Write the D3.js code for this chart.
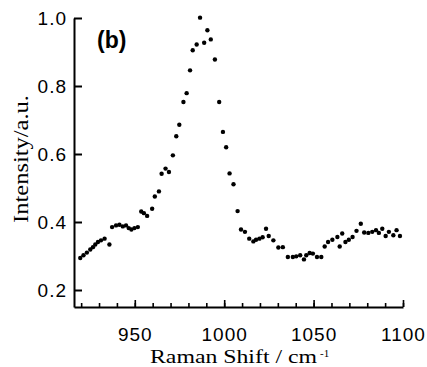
<!DOCTYPE html>
<html>
<head>
<meta charset="utf-8">
<script src="https://cdn.jsdelivr.net/npm/d3@7"></script>
<style>
  html, body { margin: 0; padding: 0; background: #fff; }
  svg { display: block; }
  .axis path, .axis line { stroke: #000; }
  .axis text { font-family: 'Liberation Sans', Arial, sans-serif; font-size: 19px; fill: #000; letter-spacing: 1px; }
</style>
</head>
<body>
<figure id="spec" style="margin:0"></figure>
<script>
// Raman shift (cm-1) and normalised intensity
const shift = [
  919.5, 921.3, 923.2, 925.1, 926.6, 927.9, 929.4, 931.1, 933.1, 935.8,
  937.3, 939.5, 941.4, 943.3, 945.1, 946.6, 948.1, 949.8, 951.7, 953.6,
  955.1, 956.9, 959.7, 961.2, 963.5, 965.0, 967.2, 969.1, 971.3, 973.2,
  974.9, 977.2, 979.0, 980.9, 982.4, 984.6, 986.5, 988.8, 990.6, 992.5,
  994.8, 997.2, 999.3, 1001.1, 1003.0, 1005.2, 1007.5, 1009.4, 1011.6, 1014.0,
  1016.3, 1017.8, 1019.7, 1021.5, 1023.4, 1024.9, 1027.5, 1030.3, 1032.8, 1035.6,
  1038.4, 1040.3, 1042.5, 1044.6, 1045.9, 1047.8, 1049.6, 1051.9, 1054.3, 1056.2,
  1058.1, 1060.5, 1063.3, 1064.6, 1066.0, 1067.8, 1069.7, 1071.8, 1074.0, 1076.4,
  1078.3, 1080.6, 1082.8, 1084.9, 1086.5, 1088.4, 1090.3, 1092.1, 1094.6, 1096.4,
  1098.3
];
const intensity = [
  0.294, 0.302, 0.310, 0.319, 0.326, 0.334, 0.341, 0.346, 0.351, 0.334,
  0.385, 0.390, 0.392, 0.387, 0.390, 0.382, 0.378, 0.382, 0.385, 0.431,
  0.426, 0.418, 0.439, 0.475, 0.490, 0.542, 0.557, 0.547, 0.596, 0.652,
  0.686, 0.753, 0.779, 0.846, 0.905, 0.922, 1.001, 0.927, 0.964, 0.937,
  0.878, 0.753, 0.665, 0.620, 0.543, 0.511, 0.432, 0.378, 0.371, 0.351,
  0.343, 0.348, 0.351, 0.355, 0.380, 0.359, 0.346, 0.325, 0.326, 0.297,
  0.297, 0.299, 0.302, 0.290, 0.302, 0.309, 0.307, 0.297, 0.297, 0.328,
  0.341, 0.348, 0.356, 0.328, 0.366, 0.341, 0.348, 0.356, 0.374, 0.395,
  0.369, 0.368, 0.371, 0.376, 0.368, 0.380, 0.359, 0.371, 0.361, 0.376,
  0.359
];
const yTicks = [0.2, 0.4, 0.6, 0.8, 1.0];
const xMajor = [950, 1000, 1050, 1100];
const xMinor = d3.range(920, 1101, 10);

const W = 427, H = 367;
const svg = d3.select('figure#spec').append('svg')
  .attr('width', W).attr('height', H);

const x = d3.scaleLinear().domain([916, 1100]).range([74, 403]);
const y = d3.scaleLinear().domain([0.15, 1.0]).range([307, 18]);

// y axis, ticks pointing inward
const gy = svg.append('g').attr('class', 'axis')
  .attr('transform', 'translate(74,0)')
  .call(d3.axisLeft(y).tickValues(yTicks).tickFormat(d3.format('.1f'))
    .tickSize(-8).tickSizeOuter(0).tickPadding(7));
gy.select('.domain').attr('stroke-width', 2);
gy.selectAll('.tick line').attr('stroke-width', 2);

// x axis: minor ticks every 10, labelled majors every 50
const gxm = svg.append('g').attr('class', 'axis')
  .attr('transform', 'translate(0,307)')
  .call(d3.axisBottom(x).tickValues(xMinor).tickFormat('').tickSize(-4).tickSizeOuter(0));
gxm.select('.domain').attr('stroke-width', 2);
gxm.selectAll('.tick line').attr('stroke-width', 1.6);

const gx = svg.append('g').attr('class', 'axis')
  .attr('transform', 'translate(0,307)')
  .call(d3.axisBottom(x).tickValues(xMajor).tickFormat(d3.format('d'))
    .tickSize(-7).tickSizeOuter(0).tickPadding(21));
gx.select('.domain').remove();
gx.selectAll('.tick line').attr('stroke-width', 1.6);

// data points
svg.append('g')
  .selectAll('circle')
  .data(shift.map((s, i) => ({ s: s, v: intensity[i] })))
  .enter()
  .append('circle')
  .attr('cx', d => x(d.s))
  .attr('cy', d => y(d.v))
  .attr('r', 2.2)
  .attr('fill', '#000');

// panel label
svg.append('text')
  .attr('x', 97).attr('y', 48)
  .style('font-family', "'Liberation Sans', Arial, sans-serif")
  .style('font-size', '23px').style('font-weight', 'bold')
  .text('(b)');

// axis titles
svg.append('text')
  .attr('transform', 'translate(28,159) rotate(-90)')
  .attr('text-anchor', 'middle')
  .attr('textLength', 128)
  .attr('lengthAdjust', 'spacingAndGlyphs')
  .style('font-family', "'Liberation Serif', 'Times New Roman', serif")
  .style('font-size', '20px')
  .text('Intensity/a.u.');

const xt = svg.append('text')
  .attr('x', 150).attr('y', 363)
  .style('font-family', "'Liberation Serif', 'Times New Roman', serif")
  .style('font-size', '18px');
xt.append('tspan').attr('textLength', 167).attr('lengthAdjust', 'spacingAndGlyphs')
  .text('Raman Shift / cm');
xt.append('tspan').attr('dx', 3).attr('dy', -6).style('font-size', '11px').text('-1');
</script>
</body>
</html>
